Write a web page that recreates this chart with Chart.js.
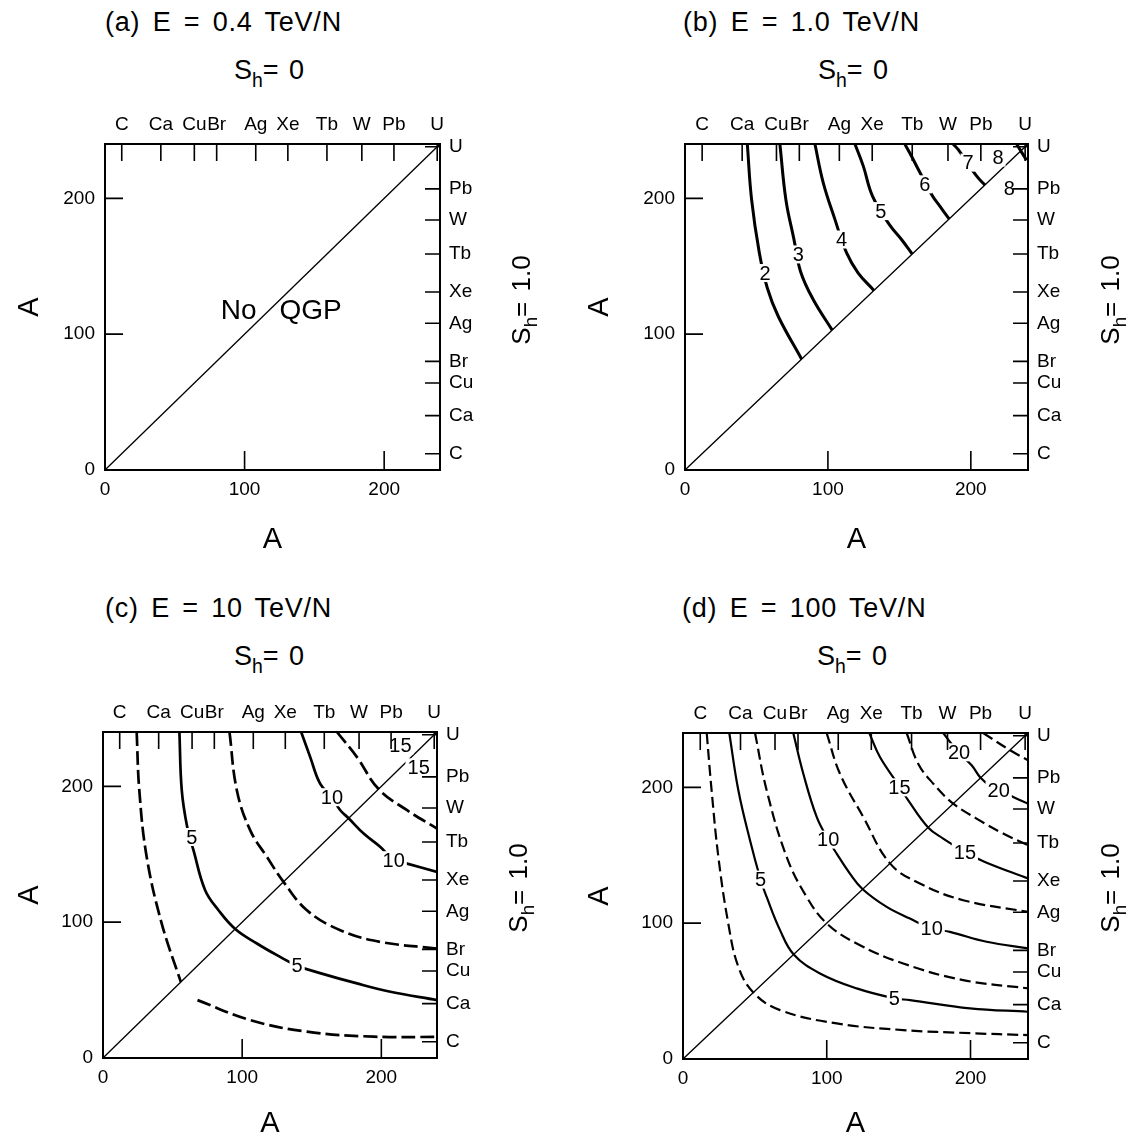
<!DOCTYPE html>
<html>
<head>
<meta charset="utf-8">
<title>QGP contours</title>
<script src="https://cdn.jsdelivr.net/npm/chart.js@4.4.1/dist/chart.umd.min.js"></script>
<style>
  html, body { margin: 0; padding: 0; background: #fff; }
  #page { position: relative; width: 1137px; height: 1142px; overflow: hidden;
          font-family: "Liberation Sans", Arial, sans-serif; color: #000; }
  #page canvas { position: absolute; }
  .title { position: absolute; font-size: 27px; line-height: 30px; white-space: nowrap;
           letter-spacing: 0.8px; word-spacing: 4px; }
  .sh0 { position: absolute; width: 200px; text-align: center; font-size: 27px; line-height: 30px;
         white-space: nowrap; word-spacing: 3px; }
  .sh1 { position: absolute; width: 140px; height: 30px; text-align: center; font-size: 26px; line-height: 30px;
         white-space: nowrap; word-spacing: 3px; transform: rotate(-90deg); }
  sub { font-size: 72%; vertical-align: -0.4em; line-height: 0; }
</style>
</head>
<body>
<div id="page">
  <canvas id="pa" width="575" height="470" style="left:0;top:95px"></canvas>
  <canvas id="pb" width="557" height="470" style="left:580px;top:95px"></canvas>
  <canvas id="pc" width="575" height="459" style="left:0;top:683px"></canvas>
  <canvas id="pd" width="557" height="459" style="left:580px;top:683px"></canvas>

  <div class="title" style="left:105px;top:7px">(a) E = 0.4 TeV/N</div>
  <div class="title" style="left:683px;top:7px">(b) E = 1.0 TeV/N</div>
  <div class="title" style="left:105px;top:593px">(c) E = 10 TeV/N</div>
  <div class="title" style="left:682px;top:593px">(d) E = 100 TeV/N</div>

  <div class="sh0" style="left:169px;top:55px">S<sub>h</sub>= 0</div>
  <div class="sh0" style="left:753px;top:55px">S<sub>h</sub>= 0</div>
  <div class="sh0" style="left:169px;top:641px">S<sub>h</sub>= 0</div>
  <div class="sh0" style="left:752px;top:641px">S<sub>h</sub>= 0</div>

  <div class="sh1" style="left:451px;top:285px">S<sub>h</sub>= 1.0</div>
  <div class="sh1" style="left:1040px;top:285px">S<sub>h</sub>= 1.0</div>
  <div class="sh1" style="left:448px;top:873px">S<sub>h</sub>= 1.0</div>
  <div class="sh1" style="left:1040px;top:873px">S<sub>h</sub>= 1.0</div>
</div>

<script>
// nuclei marked on the top and right axes, at their mass number A
const elementNames = ['C', 'Ca', 'Cu', 'Br', 'Ag', 'Xe', 'Tb', 'W', 'Pb', 'U'];
const elementMass = [12, 40, 64, 80, 108, 131, 159, 184, 207, 238];
const axisTicks = [0, 100, 200];
const diagonal = [[0, 0], [240, 240]];

// (b) E = 1.0 TeV/N
const b2 = [[43.6, 240], [46.6, 199], [52, 160], [57.6, 134], [65.3, 113], [81.6, 81.6]];
const b3 = [[66.4, 240], [70.6, 199], [76.2, 170], [80.9, 146], [89.7, 125.5], [103, 103]];
const b4 = [[90.9, 240], [96.7, 211.6], [104.9, 184.5], [113, 160], [121.2, 145], [132.2, 132.2]];
const b5 = [[118.9, 240], [124.7, 223.9], [131.2, 201.7], [142.9, 180.8], [151.5, 169.7], [159, 159]];
const b6 = [[153.8, 240], [158.5, 231], [163.2, 221.4], [173.2, 201.7], [178.3, 194.3], [184.8, 184.8]];
const b7 = [[187.6, 240], [191.1, 236], [204, 216.5], [209.8, 209.8]];
const b8 = [[232, 240], [239, 228]];
const bLabels = [['2', 56, 145], ['3', 79.3, 158.7], ['4', 109.6, 169.7], ['5', 137, 190.6],
                 ['6', 167.8, 210.3], ['7', 198.1, 226.3], ['8', 219, 230], ['8', 227, 207]];

// (c) E = 10 TeV/N
const cDash1a = [[24.2, 240], [26.1, 197], [31.4, 148], [42.2, 99], [55.9, 56]];
const cDash1b = [[67.9, 42.6], [105.8, 27.9], [146.5, 19.4], [194.5, 15.7], [240, 15.5]];
const c5 = [[54.9, 240], [56.6, 197], [60.5, 170], [65, 153], [73.4, 123.5], [83, 108.8], [95, 95],
            [110.6, 84.3], [125, 75.7], [139.5, 68], [156, 62.5], [182.5, 54.9], [206.5, 48.8], [240, 42.6]];
const cDash2 = [[90.9, 240], [96.2, 197], [105.8, 167.6], [117.8, 148], [129.7, 129.7], [146.5, 108.8],
                [170.5, 94.1], [199.3, 85.5], [240, 80.6]];
const c10 = [[142.4, 240], [148.9, 221.5], [156, 202], [164.5, 192], [170.5, 182.4], [176.5, 176.5],
             [187.3, 165.2], [199.3, 155.4], [208.9, 146], [218.5, 143.1], [240, 137]];
const cDash3 = [[168.1, 240], [182.5, 221.5], [198, 198], [218.5, 182.4], [240, 168.9]];
const cLabels = [['5', 63.8, 162.7], ['5', 139.5, 68], ['10', 164.5, 192], ['10', 208.9, 145.6],
                 ['15', 213.7, 230], ['15', 226.8, 214]];

// (d) E = 100 TeV/N
const dDash1 = [[16.5, 240], [19.9, 197.8], [24.6, 148.8], [31.5, 99.8], [38.5, 67.9], [48.9, 49],
                [67.5, 36], [106.9, 26.2], [153.2, 21.3], [200, 19], [240, 17.6]];
const d5 = [[32.2, 240], [38.5, 197.8], [46.6, 161], [54, 132], [58.2, 119.3], [67.5, 94.9], [77, 77],
            [95.3, 63], [120.8, 52], [147.4, 44.6], [157.9, 43.4], [199.6, 37.3], [240, 34.8]];
const dDash2 = [[50.1, 240], [58.2, 197.8], [72.1, 148.8], [86, 119.3], [99.9, 99.9], [120.8, 85],
                [153.2, 70.3], [194.9, 58.1], [240, 52]];
const d10 = [[76.7, 240], [83.7, 210], [93, 178.2], [101, 161.5], [106.9, 151.2], [116.1, 136.5], [125, 125],
             [141.7, 112], [157.9, 103.4], [173, 96.1], [185.7, 93.6], [211.2, 86.3], [240, 81.4]];
const dDash3 = [[99.9, 240], [109.2, 210], [125.4, 178.2], [144, 144], [164.8, 129.2], [194.9, 116.9], [240, 108.3]];
const d15 = [[129.6, 240], [137, 222.3], [150.9, 200.2], [156.7, 190.4], [170.5, 170.5], [181, 162.3],
             [196.1, 152.4], [210, 145.1], [240, 132.9]];
const dDash4 = [[155.6, 240], [163.6, 217.4], [174.1, 202.7], [188, 188], [204.2, 177], [222.7, 166], [240, 157.4]];
const d20 = [[181, 240], [191.4, 226], [200.8, 216.2], [207, 207], [214.7, 200.2], [220.4, 197.8],
             [229.7, 192.9], [240, 188]];
const dDash5 = [[208.8, 240], [227.4, 227.4], [240, 219.9]];
const dLabels = [['5', 54, 132.1], ['5', 147, 44.6], ['10', 101, 161.5], ['10', 173, 95.8],
                 ['15', 150.6, 200], ['15', 196.1, 152.4], ['20', 192, 225.8], ['20', 219.6, 197.8]];

// (a) only the text either side of the diagonal
const aWords = [['No', 95.7, 116.8], ['QGP', 147.3, 116.8]];

const FONT = '"Liberation Sans", Arial, sans-serif';
Chart.defaults.font.family = FONT;
Chart.defaults.color = '#000';

// area = chart area in page pixels; aLeftX / aBottomY = page position of the "A" axis titles
const panels = {
  pa: { left: 0, top: 95, area: [105, 144, 440, 470], aLeftX: 30, aBottomY: 540,
        solid: [], dashed: [], labels: [], words: aWords, lw: 2.5, dash: [] },
  pb: { left: 580, top: 95, area: [685, 144, 1028, 470], aLeftX: 600, aBottomY: 540,
        solid: [b2, b3, b4, b5, b6, b7, b8], dashed: [], labels: bLabels, words: [], lw: 3, dash: [] },
  pc: { left: 0, top: 683, area: [103, 732, 437, 1058], aLeftX: 30, aBottomY: 1124,
        solid: [c5, c10], dashed: [cDash1a, cDash1b, cDash2, cDash3], labels: cLabels, words: [],
        lw: 2.7, dash: [14, 5] },
  pd: { left: 580, top: 683, area: [683, 733, 1028, 1059], aLeftX: 600, aBottomY: 1124,
        solid: [d5, d10, d15, d20], dashed: [dDash1, dDash2, dDash3, dDash4, dDash5], labels: dLabels, words: [],
        lw: 2.2, dash: [11, 5] }
};

function lineSet(pts, width, dash) {
  return {
    data: pts.map(([x, y]) => ({ x, y })),
    showLine: true, borderColor: '#000', borderWidth: width, borderDash: dash,
    pointRadius: 0, tension: 0.4, fill: false
  };
}

// inward tick marks, contour labels
const decor = {
  id: 'decor',
  afterDatasetsDraw(chart) {
    const p = panels[chart.canvas.id];
    const { ctx, chartArea: a, scales } = chart;
    ctx.save();
    ctx.textAlign = 'center';
    ctx.textBaseline = 'middle';

    ctx.font = '20px ' + FONT;
    p.labels.forEach(([txt, x, y]) => {
      const px = scales.x.getPixelForValue(x);
      const py = scales.y.getPixelForValue(y);
      const w = ctx.measureText(txt).width;
      ctx.fillStyle = '#fff';
      ctx.fillRect(px - w / 2 - 2, py - 9, w + 4, 18);
      ctx.fillStyle = '#000';
      ctx.fillText(txt, px, py + 1);
    });

    ctx.font = '28px ' + FONT;
    p.words.forEach(([txt, x, y]) => {
      ctx.fillText(txt, scales.x.getPixelForValue(x), scales.y.getPixelForValue(y));
    });

    ctx.strokeStyle = '#000';
    ctx.lineWidth = 1.6;
    ctx.beginPath();
    elementMass.forEach(v => {
      const px = scales.x2.getPixelForValue(v);
      ctx.moveTo(px, a.top);
      ctx.lineTo(px, a.top + 17);
      const py = scales.y2.getPixelForValue(v);
      ctx.moveTo(a.right, py);
      ctx.lineTo(a.right - 15, py);
    });
    axisTicks.filter(v => v > 0).forEach(v => {
      const px = scales.x.getPixelForValue(v);
      ctx.moveTo(px, a.bottom);
      ctx.lineTo(px, a.bottom - 19);
      const py = scales.y.getPixelForValue(v);
      ctx.moveTo(a.left, py);
      ctx.lineTo(a.left + 18, py);
    });
    ctx.stroke();
    ctx.restore();
  }
};

function makeChart(id) {
  const p = panels[id];
  const cv = document.getElementById(id);
  const W = cv.width, H = cv.height;
  const [l, t, r, b] = p.area;
  const border = { display: true, color: '#000', width: 2 };
  const grid = { display: false, drawTicks: false };
  const tickFont = { size: 19 };
  const titleFont = { size: 29 };
  const half = 29 * 1.2 / 2;

  const datasets = [lineSet(diagonal, 1.3, [])];
  p.solid.forEach(c => datasets.push(lineSet(c, p.lw, [])));
  p.dashed.forEach(c => datasets.push(lineSet(c, p.lw, p.dash)));

  new Chart(cv, {
    type: 'scatter',
    data: { datasets },
    options: {
      responsive: false,
      animation: false,
      layout: { padding: 0 },
      plugins: { legend: { display: false }, tooltip: { enabled: false } },
      scales: {
        x: {
          type: 'linear', position: 'bottom', min: 0, max: 240, grid, border,
          ticks: { font: tickFont, padding: 8, maxRotation: 0, autoSkip: false },
          afterBuildTicks: s => { s.ticks = axisTicks.map(v => ({ value: v })); },
          title: { display: true, text: 'A', font: titleFont,
                   padding: { top: 0, bottom: Math.max(0, p.top + H - p.aBottomY - half) } },
          afterFit: s => { s.height = p.top + H - b; }
        },
        y: {
          type: 'linear', position: 'left', min: 0, max: 240, grid, border,
          ticks: { font: tickFont, padding: 10, autoSkip: false },
          afterBuildTicks: s => { s.ticks = axisTicks.map(v => ({ value: v })); },
          title: { display: true, text: 'A', font: titleFont,
                   padding: { top: Math.max(0, p.aLeftX - p.left - half), bottom: 0 } },
          afterFit: s => { s.width = l - p.left; }
        },
        x2: {
          type: 'linear', position: 'top', min: 0, max: 240, grid, border,
          ticks: { font: tickFont, padding: 8, maxRotation: 0, autoSkip: false,
                   callback: (v, i) => elementNames[i] },
          afterBuildTicks: s => { s.ticks = elementMass.map(v => ({ value: v })); },
          afterFit: s => { s.height = t - p.top; }
        },
        y2: {
          type: 'linear', position: 'right', min: 0, max: 240, grid, border,
          ticks: { font: tickFont, padding: 9, autoSkip: false,
                   callback: (v, i) => elementNames[i] },
          afterBuildTicks: s => { s.ticks = elementMass.map(v => ({ value: v })); },
          afterFit: s => { s.width = p.left + W - r; }
        }
      }
    },
    plugins: [decor]
  });
}

Object.keys(panels).forEach(makeChart);
</script>
</body>
</html>
